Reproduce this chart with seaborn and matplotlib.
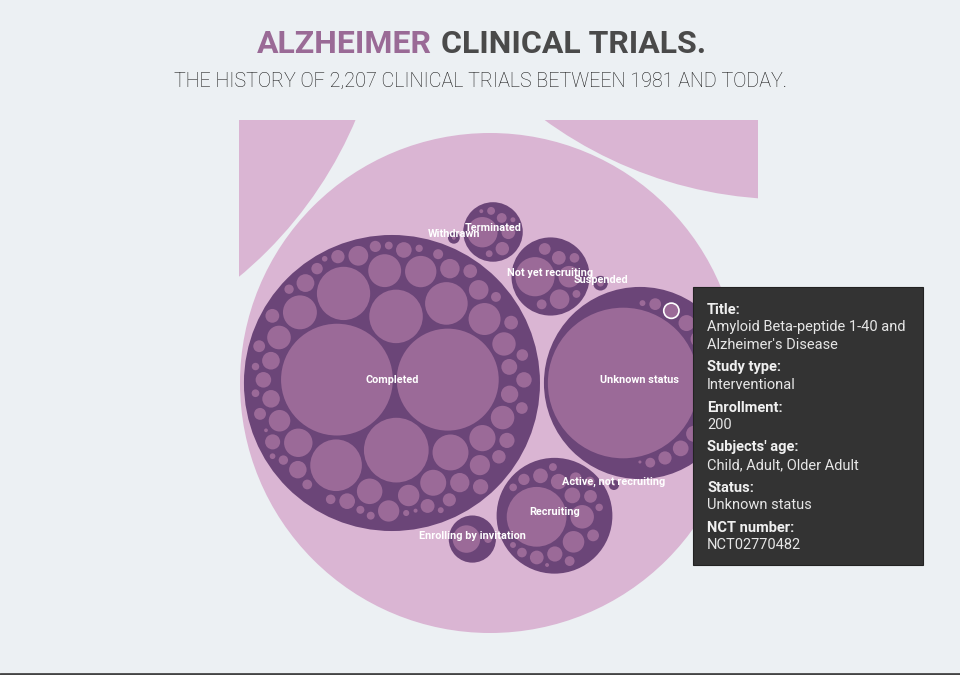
"""
Alzheimer clinical trials - zoomed circle packing view of one year.

Status groups (dark) hold one circle per trial, sized by enrollment.
Layout follows the front-chain packing used by d3.pack.
"""

import math
import matplotlib
matplotlib.use("Agg")
import matplotlib.pyplot as plt
from matplotlib.patches import Circle, Rectangle
from matplotlib.lines import Line2D
import seaborn as sns

# ---- data (enrollment per trial) ----
statuses = ["Completed", "Unknown status", "Recruiting", "Not yet recruiting",
            "Terminated", "Enrolling by invitation", "Suspended",
            "Active, not recruiting", "Withdrawn"]

completed = [10740, 8940, 3600, 2460, 2440, 2290, 1560, 1110, 990, 930, 880, 845,
             695, 590, 580, 560, 480, 475, 470, 400, 395, 390, 350,
             335, 330, 325, 320, 272, 268, 265, 262, 258,
             216, 212, 210, 208, 205, 200, 198, 195,
             166, 164, 162, 160, 156, 152, 148,
             122, 120, 118, 115, 112, 108,
             86, 84, 82, 79, 76, 75,
             55, 54, 53, 51, 48, 46,
             32, 30, 28, 27, 14, 12]
unknown = [19500, 760, 600, 240, 232, 226, 220, 212, 200, 150, 119, 83, 53, 30, 13, 8]
recruiting = [3070, 475, 400, 212, 205, 198, 186, 162, 140, 119, 115, 110,
              83, 80, 76, 53, 50, 48, 30, 13]
not_yet_recruiting = [1320, 400, 330, 162, 119, 83, 80, 53]
terminated = [793, 162, 155, 83, 53, 40, 21, 13]
enrolling = [650, 53]
suspended = [40]
active_not_recruiting = [5]
withdrawn = [13]

status_enrollments = [completed, unknown, recruiting, not_yet_recruiting, terminated,
                      enrolling, suspended, active_not_recruiting, withdrawn]

# the two neighbouring (larger) year circles cut by the zoomed view
neighbour_years = [590000, 590000]
# in the full layout (other years not drawn) the neighbours sit turned by this angle
neighbour_turn_deg = -12

hovered_status = "Unknown status"
hovered_enrollment = 200

tooltip_labels = ["Title:", "Study type:", "Enrollment:", "Subjects' age:", "Status:", "NCT number:"]
tooltip_values = ["Amyloid Beta-peptide 1-40 and\nAlzheimer's Disease", "Interventional", "200",
                  "Child, Adult, Older Adult", "Unknown status", "NCT02770482"]

BG = "#ecf0f3"
YEAR_COLOR = "#dab5d3"
STATUS_COLOR = "#6b4578"
TRIAL_COLOR = "#9b6a98"
PADDING = 7.3


# ---- circle packing ----
class Circ:
    def __init__(self, value=0.0, children=None, name=""):
        self.children = children or []
        self.value = value if not self.children else sum(c.value for c in self.children)
        self.name = name
        self.x = self.y = 0.0
        self.r = 0.0


class Link:
    def __init__(self, c):
        self.c = c
        self.next = None
        self.prev = None


def place(b, a, c):
    dx, dy = b.x - a.x, b.y - a.y
    d2 = dx * dx + dy * dy
    if d2:
        a2 = (a.r + c.r) ** 2
        b2 = (b.r + c.r) ** 2
        if a2 > b2:
            x = (d2 + b2 - a2) / (2 * d2)
            y = math.sqrt(max(0, b2 / d2 - x * x))
            c.x = b.x - x * dx - y * dy
            c.y = b.y - x * dy + y * dx
        else:
            x = (d2 + a2 - b2) / (2 * d2)
            y = math.sqrt(max(0, a2 / d2 - x * x))
            c.x = a.x + x * dx - y * dy
            c.y = a.y + x * dy + y * dx
    else:
        c.x = a.x + c.r
        c.y = a.y


def intersects(a, b):
    dr = a.r + b.r - 1e-6
    dx, dy = b.x - a.x, b.y - a.y
    return dr > 0 and dr * dr > dx * dx + dy * dy


def score(node):
    a, b = node.c, node.next.c
    ab = a.r + b.r
    dx = (a.x * b.r + b.x * a.r) / ab
    dy = (a.y * b.r + b.y * a.r) / ab
    return dx * dx + dy * dy


def encloses_not(a, b):
    dr = a[2] - b[2]
    dx, dy = b[0] - a[0], b[1] - a[1]
    return dr < 0 or dr * dr < dx * dx + dy * dy


def encloses_weak(a, b):
    dr = a[2] - b[2] + max(a[2], b[2], 1) * 1e-9
    dx, dy = b[0] - a[0], b[1] - a[1]
    return dr > 0 and dr * dr > dx * dx + dy * dy


def basis2(a, b):
    x1, y1, r1 = a
    x2, y2, r2 = b
    x21, y21, r21 = x2 - x1, y2 - y1, r2 - r1
    l = math.hypot(x21, y21)
    if l == 0:
        return a if r1 >= r2 else b
    return ((x1 + x2 + x21 / l * r21) / 2, (y1 + y2 + y21 / l * r21) / 2, (l + r1 + r2) / 2)


def basis3(a, b, c):
    x1, y1, r1 = a
    x2, y2, r2 = b
    x3, y3, r3 = c
    a2, a3 = x1 - x2, x1 - x3
    b2, b3 = y1 - y2, y1 - y3
    c2, c3 = r2 - r1, r3 - r1
    d1 = x1 * x1 + y1 * y1 - r1 * r1
    d2 = d1 - x2 * x2 - y2 * y2 + r2 * r2
    d3 = d1 - x3 * x3 - y3 * y3 + r3 * r3
    ab = a3 * b2 - a2 * b3
    xa = (b2 * d3 - b3 * d2) / (ab * 2) - x1
    xb = (b3 * c2 - b2 * c3) / ab
    ya = (a3 * d2 - a2 * d3) / (ab * 2) - y1
    yb = (a2 * c3 - a3 * c2) / ab
    A = xb * xb + yb * yb - 1
    B = 2 * (r1 + xa * xb + ya * yb)
    C = xa * xa + ya * ya - r1 * r1
    r = -((B + math.sqrt(B * B - 4 * A * C)) / (2 * A) if abs(A) > 1e-6 else C / B)
    return (x1 + xa + xb * r, y1 + ya + yb * r, r)


def extend_basis(B, p):
    if all(encloses_weak(p, b) for b in B):
        return [p]
    for b in B:
        if encloses_not(p, b) and all(encloses_weak(basis2(b, p), q) for q in B):
            return [b, p]
    for i in range(len(B) - 1):
        for j in range(i + 1, len(B)):
            if (encloses_not(basis2(B[i], B[j]), p)
                    and encloses_not(basis2(B[i], p), B[j])
                    and encloses_not(basis2(B[j], p), B[i])
                    and all(encloses_weak(basis3(B[i], B[j], p), q) for q in B)):
                return [B[i], B[j], p]
    raise RuntimeError("enclose failed")


def enclose(circles):
    B, e, i = [], None, 0
    while i < len(circles):
        p = circles[i]
        if e is not None and encloses_weak(e, p):
            i += 1
        else:
            B = extend_basis(B, p)
            e = B[0] if len(B) == 1 else basis2(*B) if len(B) == 2 else basis3(*B)
            i = 0
    return e


def pack_siblings(circles):
    n = len(circles)
    a = circles[0]
    a.x, a.y = 0.0, 0.0
    if n == 1:
        return a.r
    b = circles[1]
    a.x, b.x, b.y = -b.r, a.r, 0.0
    if n == 2:
        return a.r + b.r
    place(b, a, circles[2])
    a, b, c = Link(a), Link(b), Link(circles[2])
    a.next = c.prev = b
    b.next = a.prev = c
    c.next = b.prev = a

    i = 3
    while i < n:
        place(a.c, b.c, circles[i])
        c = Link(circles[i])
        j, k, sj, sk = b.next, a.prev, b.c.r, a.c.r
        retry = False
        while True:
            if sj <= sk:
                if intersects(j.c, c.c):
                    b = j
                    a.next, b.prev = b, a
                    retry = True
                    break
                sj += j.c.r
                j = j.next
            else:
                if intersects(k.c, c.c):
                    a = k
                    a.next, b.prev = b, a
                    retry = True
                    break
                sk += k.c.r
                k = k.prev
            if j is k.next:
                break
        if retry:
            continue
        c.prev, c.next = a, b
        a.next = c
        b.prev = c
        b = c
        aa = score(a)
        c = c.next
        while c is not b:
            ca = score(c)
            if ca < aa:
                a, aa = c, ca
            c = c.next
        b = a.next
        i += 1

    chain, c = [(b.c.x, b.c.y, b.c.r)], b.next
    while c is not b:
        chain.append((c.c.x, c.c.y, c.c.r))
        c = c.next
    ex, ey, er = enclose(chain)
    for ci in circles:
        ci.x -= ex
        ci.y -= ey
    return er


def pack(node):
    if not node.children:
        node.r = math.sqrt(node.value)
        return
    node.children.sort(key=lambda ch: -ch.value)
    for ch in node.children:
        pack(ch)
    for ch in node.children:
        ch.r += PADDING / 2
    e = pack_siblings(node.children)
    for ch in node.children:
        ch.r -= PADDING / 2
    node.r = e + PADDING / 2


def to_absolute(node):
    for ch in node.children:
        ch.x += node.x
        ch.y += node.y
        to_absolute(ch)


groups = [Circ(children=[Circ(v) for v in vals], name=name)
          for name, vals in zip(statuses, status_enrollments)]
focus = Circ(children=groups, name="year")
neighbours = [Circ(v, name="other year") for v in neighbour_years]
root = Circ(children=neighbours + [focus])
pack(root)
to_absolute(root)

# turn the neighbouring years around the focused one
t = math.radians(neighbour_turn_deg)
for nb in neighbours:
    dx, dy = nb.x - focus.x, nb.y - focus.y
    nb.x = focus.x + dx * math.cos(t) - dy * math.sin(t)
    nb.y = focus.y + dx * math.sin(t) + dy * math.cos(t)

# ---- drawing ----
sns.set_theme(style="white")
plt.rcParams["font.family"] = ["Roboto", "DejaVu Sans"]

W, H = 960, 675
fig = plt.figure(figsize=(W / 100, H / 100), dpi=100)
fig.patch.set_facecolor(BG)

# chart viewport in pixels, focused circle centred at (490, 383) with radius 250
vx0, vx1, vy0, vy1 = 239, 758, 120, 633
fcx, fcy, frad = 490, 383, 250
ax = fig.add_axes([vx0 / W, 1 - vy1 / H, (vx1 - vx0) / W, (vy1 - vy0) / H])
s = frad / focus.r
ax.set_xlim(focus.x - (fcx - vx0) / s, focus.x + (vx1 - fcx) / s)
ax.set_ylim(focus.y + (vy1 - fcy) / s, focus.y - (fcy - vy0) / s)
ax.axis("off")

for yr in root.children:
    ax.add_patch(Circle((yr.x, yr.y), yr.r, color=YEAR_COLOR, lw=0, zorder=1))
hover_done = False
for g in focus.children:
    ax.add_patch(Circle((g.x, g.y), g.r, color=STATUS_COLOR, lw=0, zorder=2))
    for tr in g.children:
        hovered = (not hover_done and g.name == hovered_status and tr.value == hovered_enrollment)
        if hovered:
            hover_done = True
            ax.add_patch(Circle((tr.x, tr.y), tr.r, facecolor=TRIAL_COLOR, edgecolor="white",
                                lw=1.2, zorder=4))
        else:
            ax.add_patch(Circle((tr.x, tr.y), tr.r, color=TRIAL_COLOR, lw=0, zorder=3))
for g in focus.children:
    ax.annotate(g.name, (g.x, g.y), xytext=(0, 2.5), textcoords="offset points",
                ha="center", va="center", color="white", fontsize=7.8,
                fontweight="bold", zorder=6, annotation_clip=False)

# title
fig.text(432 / W, 1 - 44 / H, "ALZHEIMER", ha="right", va="center",
         fontsize=23, fontweight="bold", color="#9a6a96")
fig.text(441 / W, 1 - 44 / H, "CLINICAL TRIALS.", ha="left", va="center",
         fontsize=23, fontweight="bold", color="#4a4a4a")
fig.text(480 / W, 1 - 81 / H, "THE HISTORY OF 2,207 CLINICAL TRIALS BETWEEN 1981 AND TODAY.",
         ha="center", va="center", fontsize=14.2, fontweight="light", color="#161616")

# tooltip
fig.add_artist(Rectangle((693 / W, 1 - 565 / H), 230 / W, 278 / H, transform=fig.transFigure,
                         facecolor="#333333", edgecolor="#222222", lw=0.8, zorder=10))
ty = 310
for lab, val in zip(tooltip_labels, tooltip_values):
    fig.text(707 / W, 1 - ty / H, lab, ha="left", va="center", fontsize=10.5,
             fontweight="bold", color="#f0f0f0", zorder=11)
    for line in val.split("\n"):
        ty += 17.5
        fig.text(707 / W, 1 - ty / H, line, ha="left", va="center", fontsize=10.5,
                 color="#e6e6e6", zorder=11)
    ty += 22.5

fig.add_artist(Line2D([0, 1], [1 - 674 / H, 1 - 674 / H], transform=fig.transFigure,
                      color="#444444", lw=2))

fig.savefig("out.png", dpi=100, facecolor=BG)
